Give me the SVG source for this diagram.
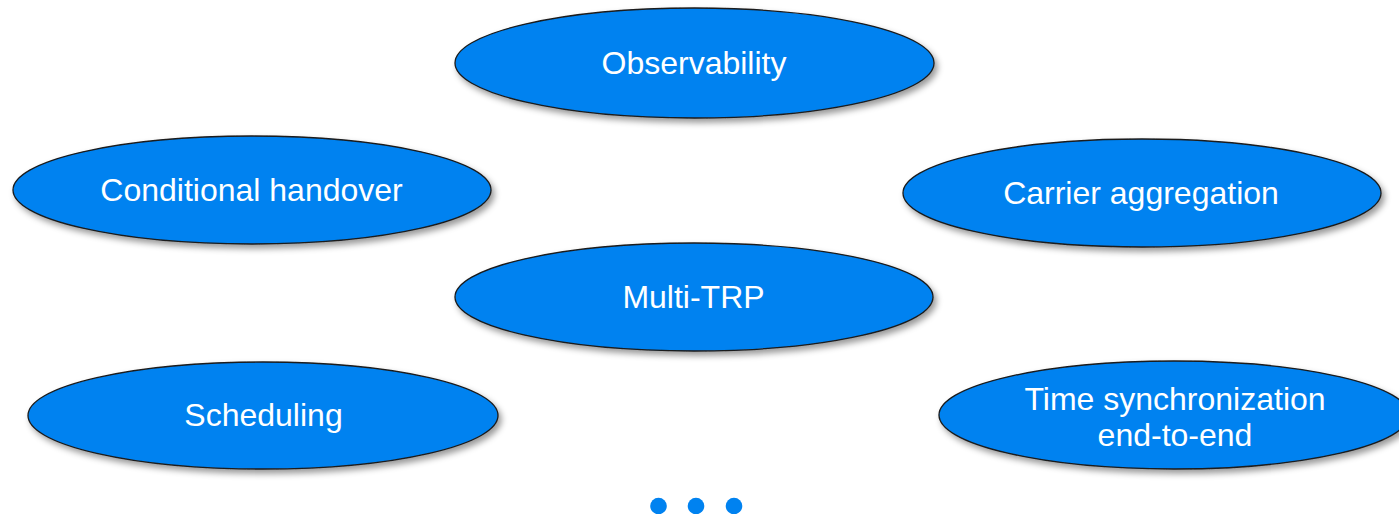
<svg xmlns="http://www.w3.org/2000/svg" width="1399" height="514" viewBox="0 0 1399 514">
  <defs>
    <filter id="shadow" x="-10%" y="-20%" width="120%" height="150%">
      <feDropShadow dx="3" dy="4" stdDeviation="3" flood-color="#000" flood-opacity="0.4"/>
    </filter>
  </defs>
  <style>
    .bubble { fill: #0082F0; stroke: #1a1a1a; stroke-width: 1.3; filter: url(#shadow); }
    .label { fill: #ffffff; font-family: "Liberation Sans", Arial, sans-serif; font-size: 32px; text-anchor: middle; }
    .dot { fill: #0082F0; }
  </style>
  <rect width="1399" height="514" fill="#ffffff"/>

  <g id="observability">
    <ellipse class="bubble" cx="694.5" cy="63" rx="239.5" ry="55"/>
    <text class="label" x="694" y="74">Observability</text>
  </g>

  <g id="conditional-handover">
    <ellipse class="bubble" cx="252" cy="190" rx="239" ry="54"/>
    <text class="label" x="251.5" y="201">Conditional handover</text>
  </g>

  <g id="carrier-aggregation">
    <ellipse class="bubble" cx="1142" cy="193" rx="239" ry="54"/>
    <text class="label" x="1141" y="204">Carrier aggregation</text>
  </g>

  <g id="multi-trp">
    <ellipse class="bubble" cx="694" cy="297" rx="239" ry="54"/>
    <text class="label" x="693.5" y="308">Multi-TRP</text>
  </g>

  <g id="scheduling">
    <ellipse class="bubble" cx="263" cy="415.5" rx="235" ry="53.5"/>
    <text class="label" x="263.5" y="426">Scheduling</text>
  </g>

  <g id="time-synchronization">
    <ellipse class="bubble" cx="1174" cy="415" rx="235" ry="54"/>
    <text class="label" x="1175" y="410">Time synchronization</text>
    <text class="label" x="1175" y="446">end-to-end</text>
  </g>

  <g id="connectors"/>

  <g id="ellipsis">
    <circle class="dot" cx="658.5" cy="506" r="8.3"/>
    <circle class="dot" cx="696" cy="506" r="8.3"/>
    <circle class="dot" cx="734" cy="506" r="8.3"/>
  </g>
</svg>
